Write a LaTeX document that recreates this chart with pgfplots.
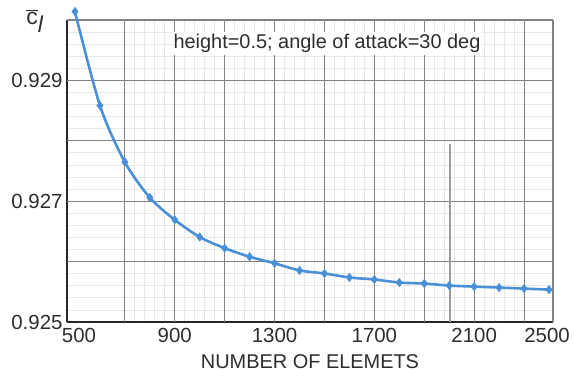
\documentclass[border=0pt]{standalone}
\usepackage{pgfplots}
\pgfplotsset{compat=1.18}
\usepackage{fontspec}
\setmainfont{Liberation Sans}
\definecolor{curve}{RGB}{74,144,217}
\definecolor{txt}{RGB}{45,45,45}
\definecolor{majg}{RGB}{130,130,130}
\definecolor{ming}{RGB}{232,232,232}
\begin{document}
\begin{tikzpicture}
\path[use as bounding box] (-67bp,-57bp) rectangle (507bp,322bp);
\begin{axis}[
  scale only axis,
  width=486bp, height=302bp,
  xmin=468, xmax=2416,
  ymin=0.925, ymax=0.93,
  clip=false,
  axis x line*=bottom, axis y line*=left,
  axis line style={draw=black!85, line width=1.5bp, -},
  xtick={700,900,...,2300},
  xticklabels={,900,,1300,,1700,,2100,},
  extra x ticks={516,2392},
  extra x tick labels={500,2500},
  extra x tick style={grid=none},
  ytick={0.925,0.926,0.927,0.928,0.929,0.930},
  yticklabels={0.925,,0.927,,0.929,},
  minor x tick num=4, minor y tick num=4,
  grid=minor,
  minor grid style={draw=ming, line width=0.8bp},
  major tick length=0pt, minor tick length=0pt,
  tick label style={font=\fontsize{20.5}{22}\selectfont, text=txt},
  xticklabel style={yshift=-3bp},
  yticklabel style={xshift=-1bp},
  xlabel={NUMBER OF ELEMETS},
  xlabel style={font=\fontsize{20}{22}\selectfont, text=txt, yshift=-5bp},
]
\pgfplotsinvokeforeach{700,900,1100,1300,1500,1700,1900,2100,2300}{
  \draw[majg, line width=1.1bp] (axis cs:#1,0.925) -- (axis cs:#1,0.93);
}
\pgfplotsinvokeforeach{0.926,0.927,0.928,0.929,0.930}{
  \draw[majg, line width=1.1bp] (axis cs:468,#1) -- (axis cs:2416,#1);
}
\draw[majg, line width=1.1bp] (rel axis cs:1,0) -- (rel axis cs:1,1);
\draw[majg!80, line width=1.1bp] (axis cs:2003,0.92795) -- (axis cs:2003,0.925);
\node[fill=white, inner sep=2bp, text=txt, font=\fontsize{20}{22}\selectfont] at (axis cs:1510,0.92961) {height=0.5; angle of attack=30 deg};
\node[text=txt, font=\fontsize{23}{24}\selectfont] at (rel axis cs:0,1) [xshift=-32bp, yshift=-1bp] {$\overline{\mbox{c}}_{\mbox{\itshape l}}$};
\addplot[curve, line width=2.6bp, smooth, mark=diamond*, mark size=4.2bp, mark options={fill=curve, line width=0.5bp}] coordinates {
(500,0.93014) (600,0.928585) (700,0.927647) (800,0.92706) (900,0.926692)
(1000,0.926407) (1100,0.926223) (1200,0.92608) (1300,0.925972) (1400,0.925854)
(1500,0.925804) (1600,0.925737) (1700,0.925704) (1800,0.925653) (1900,0.925637)
(2000,0.925603) (2100,0.925586) (2200,0.92557) (2300,0.925553) (2400,0.925536)
};
\end{axis}
\end{tikzpicture}
\end{document}
